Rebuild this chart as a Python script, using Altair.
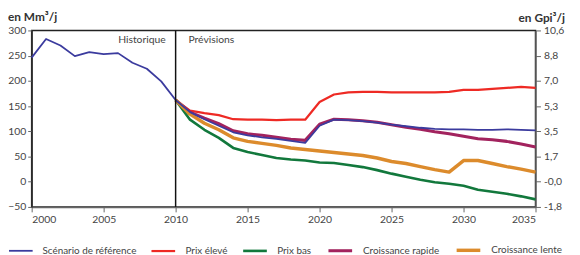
import altair as alt
import pandas as pd

years_hist = list(range(2000, 2011))
ref_hist = [246, 283, 270, 249, 257, 253, 255, 236, 224, 199, 162]

years_fc = list(range(2010, 2036))
ref_fc = [162, 138, 124, 111, 98, 92, 88, 85, 81, 77, 111, 123, 122, 120, 117, 113,
          110, 107, 105, 104, 104, 103, 103, 104, 103, 102]
prix_eleve = [162, 141, 136, 132, 124, 123, 123, 122, 123, 123, 158, 173, 177, 178, 178, 177,
              177, 177, 177, 178, 182, 182, 184, 186, 188, 186]
prix_bas = [162, 123, 103, 87, 67, 59, 53, 47, 44, 42, 38, 37, 33, 29, 23, 16,
            10, 4, -1, -4, -8, -16, -20, -24, -29, -35]
crois_rapide = [162, 138, 126, 115, 101, 95, 92, 88, 84, 82, 114, 124, 123, 121, 118, 113,
                108, 104, 99, 95, 90, 85, 83, 80, 75, 69]
crois_lente = [162, 134, 116, 103, 87, 80, 76, 72, 67, 64, 61, 58, 55, 52, 47, 40,
               36, 30, 24, 19, 42, 42, 36, 30, 25, 19]

series_names = ["Scénario de référence", "Prix élevé", "Prix bas",
                "Croissance rapide", "Croissance lente"]
series_colors = ["#3b3b9e", "#ee2a24", "#12783c", "#a2235e", "#dc8b2c"]
series_widths = [1.8, 3.5, 3.5, 3.5, 3.5]

left_ticks = [-50, 0, 50, 100, 150, 200, 250, 300]
right_labels = ["-1,8", "-0,0", "1,7", "3,5", "5,3", "7,0", "8,8", "10,6"]
x_ticks = [2000, 2005, 2010, 2015, 2020, 2025, 2030, 2035]

rows = []
for y, v in zip(years_hist, ref_hist):
    rows.append({"year": y, "value": v, "series": series_names[0]})
for y, v in zip(years_fc[1:], ref_fc[1:]):
    rows.append({"year": y, "value": v, "series": series_names[0]})
ref_df = pd.DataFrame(rows)

other_rows = []
for i, vals in enumerate([prix_eleve, prix_bas, crois_rapide, crois_lente], start=1):
    for y, v in zip(years_fc, vals):
        other_rows.append({"year": y, "value": v, "series": series_names[i]})
oth_df = pd.DataFrame(other_rows)

FONT = "Lato"

label_expr = " : ".join(
    f"datum.value == {t} ? '{l}'" for t, l in zip(left_ticks, right_labels)
) + " : ''"

xenc = alt.X("year:Q", scale=alt.Scale(domain=[2000, 2035], nice=False, zero=False),
             axis=alt.Axis(values=x_ticks, format="d", title=None, tickSize=5,
                           labelPadding=3, domainColor="#666", domainWidth=1.5,
                           tickColor="#666", grid=False))
yscale = alt.Scale(domain=[-50, 300], nice=False, zero=False)
legend_sw = f"datum.value == '{series_names[0]}' ? 1.8 : 3.5"
color = alt.Color("series:N", scale=alt.Scale(domain=series_names, range=series_colors),
                  legend=alt.Legend(title=None,
                                    symbolStrokeWidth=alt.ExprRef(expr=legend_sw)))
swidth = alt.StrokeWidth("series:N",
                         scale=alt.Scale(domain=series_names, range=series_widths),
                         legend=None)

others = alt.Chart(oth_df).mark_line(strokeJoin="round").encode(
    x=xenc,
    y=alt.Y("value:Q", scale=yscale,
            axis=alt.Axis(values=left_ticks, title=None, tickSize=4, labelPadding=2,
                          domainColor="#333", domainWidth=1.5, tickColor="#666",
                          grid=False)),
    color=color,
    strokeWidth=swidth,
    detail="series:N",
)

ref = alt.Chart(ref_df).mark_line(strokeJoin="round").encode(
    x="year:Q",
    y=alt.Y("value:Q", scale=yscale,
            axis=alt.Axis(values=left_ticks, orient="right", title=None, tickSize=5,
                          labelPadding=3, labelExpr=label_expr, domainColor="#666",
                          domainWidth=1.5, tickColor="#666", grid=False)),
    color=color,
    strokeWidth=swidth,
)

vline = alt.Chart(pd.DataFrame({"year": [2010]})).mark_rule(
    color="#111", strokeWidth=1.5).encode(x="year:Q")

hist_txt = alt.Chart(pd.DataFrame({"year": [2010], "t": ["Historique"]})).mark_text(
    align="right", dx=-10, baseline="middle", font=FONT, fontSize=10.5, color="#444"
).encode(x="year:Q", y=alt.value(10), text="t:N")
prev_txt = alt.Chart(pd.DataFrame({"year": [2010], "t": ["Prévisions"]})).mark_text(
    align="left", dx=13, baseline="middle", font=FONT, fontSize=10.5, color="#444"
).encode(x="year:Q", y=alt.value(10), text="t:N")

unit_l = alt.Chart(pd.DataFrame({"t": ["en Mm³/j"]})).mark_text(
    align="left", baseline="middle", font=FONT, fontSize=12, fontWeight="bold",
    color="#333").encode(x=alt.value(-24), y=alt.value(-14), text="t:N")
unit_r = alt.Chart(pd.DataFrame({"t": ["en Gpi³/j"]})).mark_text(
    align="right", baseline="middle", font=FONT, fontSize=12, fontWeight="bold",
    color="#333").encode(x=alt.value(541), y=alt.value(-13), text="t:N")

chart = alt.layer(
    others, ref, vline, hist_txt, prev_txt, unit_l, unit_r
).resolve_axis(y="independent").properties(
    width=511, height=179,
    autosize=alt.AutoSizeParams(type="none"),
    padding={"left": 24, "top": 21, "right": 37, "bottom": 47},
).configure_view(
    stroke="#222", strokeWidth=1.5
).configure_axis(
    labelFont=FONT, labelFontSize=10.5, labelColor="#444"
).configure_legend(
    orient="none", legendX=-24, legendY=209, direction="horizontal",
    symbolType="stroke", symbolSize=576, labelFont=FONT, labelFontSize=10,
    labelColor="#444", labelOffset=9, columnPadding=10, padding=0,
    labelLimit=200,
)

chart.save("out.html", embed_options={"renderer": "svg", "actions": False})
